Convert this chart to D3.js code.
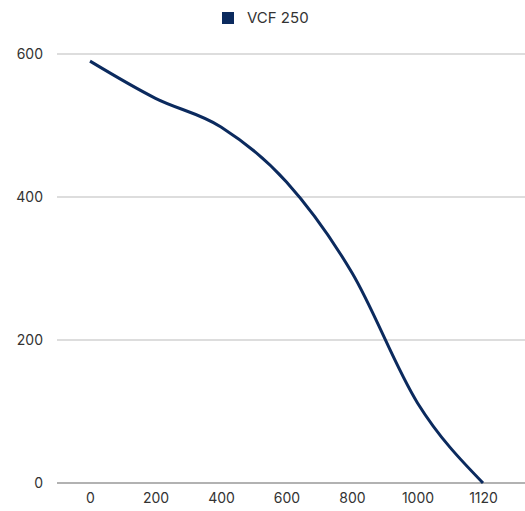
<!DOCTYPE html>
<html lang="en">
<head>
<meta charset="UTF-8">
<title>VCF 250</title>
<script src="https://d3js.org/d3.v7.min.js"></script>
<style>
    body { margin: 0; background: #fff; font-family: Inter, "Open Sans", sans-serif; }
    .tick text { font-size: 14px; fill: #333; font-family: Inter, sans-serif; }
</style>
</head>
<body>
<div id="chart"></div>
<script>
    // flow values (categories) and pressure
    const categories = ["0", "200", "400", "600", "800", "1000", "1120"];
    const values = [590, 538, 498, 421, 294, 112, 0];
    const yTicks = [0, 200, 400, 600];
    const seriesName = "VCF 250";

    const width = 525, height = 511;
    const color = "#0b2a5e";

    const svg = d3.select("#chart").append("svg")
        .attr("width", width)
        .attr("height", height);

    const x = d3.scalePoint()
        .domain(categories)
        .range([90, 483]);

    const y = d3.scaleLinear()
        .domain([0, 600])
        .range([483, 54]);

    // grid lines
    svg.append("g")
        .selectAll("line")
        .data(yTicks)
        .enter()
        .append("line")
        .attr("x1", 57)
        .attr("x2", width)
        .attr("y1", d => y(d))
        .attr("y2", d => y(d))
        .attr("stroke", d => d === 0 ? "#666" : "#bbb")
        .attr("stroke-width", 1.2);

    // y axis labels
    svg.append("g")
        .attr("transform", "translate(43,0)")
        .call(d3.axisLeft(y).tickValues(yTicks).tickSize(0).tickPadding(0))
        .call(g => g.select(".domain").remove());

    // x axis labels
    svg.append("g")
        .attr("transform", "translate(0,490)")
        .call(d3.axisBottom(x).tickSize(0).tickPadding(0))
        .call(g => g.select(".domain").remove())
        .selectAll("text")
        .attr("dy", "0.9em");

    const line = d3.line()
        .x((d, i) => x(categories[i]))
        .y(d => y(d))
        .curve(d3.curveMonotoneX);

    svg.append("path")
        .datum(values)
        .attr("fill", "none")
        .attr("stroke", color)
        .attr("stroke-width", 3)
        .attr("d", line);

    // legend
    const legend = svg.append("g");
    legend.append("rect")
        .attr("x", 222)
        .attr("y", 12)
        .attr("width", 12)
        .attr("height", 12)
        .attr("fill", color);
    legend.append("text")
        .attr("x", 247)
        .attr("y", 18)
        .attr("dy", "0.35em")
        .attr("font-size", 15)
        .attr("fill", "#333")
        .text(seriesName);
</script>
</body>
</html>
